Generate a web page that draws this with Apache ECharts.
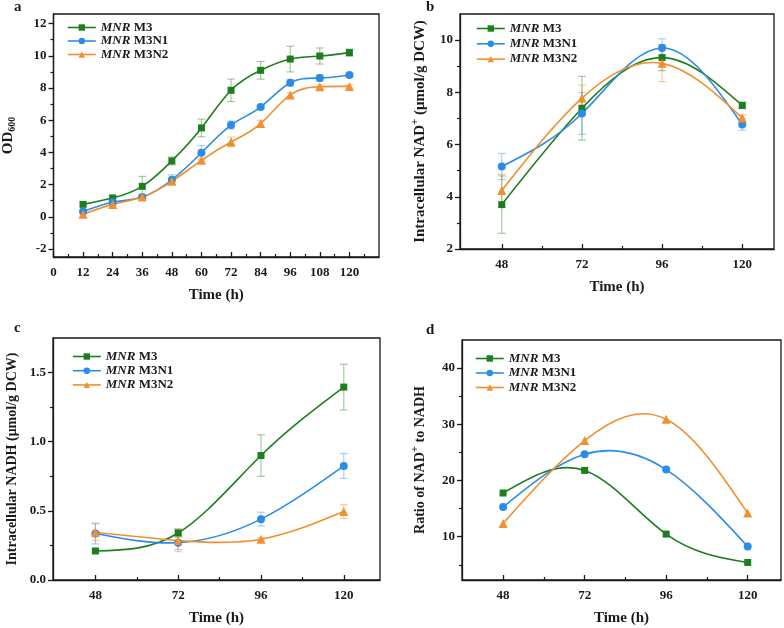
<!DOCTYPE html>
<html>
<head>
<meta charset="utf-8">
<script src="https://cdn.jsdelivr.net/npm/echarts@6/dist/echarts.min.js"></script>
<style>html,body{margin:0;padding:0;background:#fff}#c{width:784px;height:628px}</style>
</head>
<body>
<div id="c"></div>
<script>
// ---------- DATA ----------
const seriesNames = ['MNR M3', 'MNR M3N1', 'MNR M3N2'];

// Panel a: OD600 growth
const timeA = [12, 24, 36, 48, 60, 72, 84, 96, 108, 120];
const odM3     = [0.77, 1.17, 1.89, 3.47, 5.52, 7.86, 9.10, 9.80, 9.99, 10.20];
const odM3err  = [0.10, 0.15, 0.62, 0.25, 0.55, 0.70, 0.55, 0.80, 0.50, 0.22];
const odM3N1    = [0.32, 0.90, 1.23, 2.30, 3.98, 5.70, 6.82, 8.33, 8.62, 8.81];
const odM3N1err = [0.10, 0.10, 0.10, 0.30, 0.45, 0.25, 0.12, 0.20, 0.20, 0.12];
const odM3N2    = [0.15, 0.77, 1.23, 2.20, 3.51, 4.65, 5.79, 7.57, 8.08, 8.10];
const odM3N2err = [0.10, 0.10, 0.10, 0.12, 0.12, 0.30, 0.20, 0.12, 0.12, 0.10];
const xTicksA = [0, 12, 24, 36, 48, 60, 72, 84, 96, 108, 120];
const xMinorA = [6, 18, 30, 42, 54, 66, 78, 90, 102, 114, 126];
const yTicksA = [-2, 0, 2, 4, 6, 8, 10, 12];
const yMinorA = [-1, 1, 3, 5, 7, 9, 11];

// Panels b-d: sampling times
const timeB = [48, 72, 96, 120];
const xTicksB = [48, 72, 96, 120];
const xMinorB = [60, 84, 108];

// Panel b: intracellular NAD+
const nadM3     = [3.70, 7.39, 9.33, 7.50];
const nadM3err  = [1.10, 1.22, 0.50, 0.12];
const nadM3N1    = [5.16, 7.19, 9.70, 6.77];
const nadM3N1err = [0.50, 0.80, 0.35, 0.22];
const nadM3N2    = [4.24, 7.78, 9.11, 7.02];
const nadM3N2err = [0.62, 0.50, 0.70, 0.12];
const yTicksB = [2, 4, 6, 8, 10];
const yMinorB = [3, 5, 7, 9];

// Panel c: intracellular NADH
const nadhM3     = [0.21, 0.34, 0.90, 1.395];
const nadhM3err  = [0.01, 0.03, 0.15, 0.165];
const nadhM3N1    = [0.336, 0.27, 0.44, 0.825];
const nadhM3N1err = [0.075, 0.05, 0.05, 0.09];
const nadhM3N2    = [0.345, 0.285, 0.295, 0.495];
const nadhM3N2err = [0.06, 0.08, 0.012, 0.05];
const yTicksC = [0, 0.5, 1.0, 1.5];
const yMinorC = [0.25, 0.75, 1.25];

// Panel d: NAD+/NADH ratio
const ratioM3   = [17.78, 21.8, 10.47, 5.42];
const ratioM3N1 = [15.28, 24.67, 21.94, 8.27];
const ratioM3N2 = [12.37, 27.1, 30.9, 14.2];
const yTicksD = [10, 20, 30, 40];
const yMinorD = [5, 15, 25, 35];

// ---------- STYLE ----------
const colors = ['#1e7d1e', '#2b8ce6', '#f0902e'];
const errColors = ['rgba(30,125,30,0.40)', 'rgba(43,140,230,0.40)', 'rgba(240,144,46,0.45)'];
const symbols = ['rect', 'circle', 'triangle'];
const symbolSizes = [7, 8, 9];
const FONT = '"Liberation Serif", "Times New Roman", serif';
const AX = '#1a1a1a';

const grids = [
  {left: 53, top: 14, width: 326, height: 243},
  {left: 460, top: 14, width: 314, height: 235},
  {left: 53, top: 338, width: 327, height: 242},
  {left: 462, top: 340, width: 319, height: 240}
];

const xAxes = [], yAxes = [], series = [];

function addAxes(gi, xr, xt, xm, yr, yt, ym, yName, yGap, yFs, yFmt) {
  const base = {gridIndex: gi, type: 'value', splitLine: {show: false}};
  xAxes.push(Object.assign({}, base, {
    position: 'bottom', min: xr[0], max: xr[1],
    axisLine: {show: true, onZero: false, lineStyle: {color: AX, width: 1.3}},
    axisTick: {show: true, inside: true, length: 5, customValues: xt, lineStyle: {color: AX, width: 1.3}},
    axisLabel: {customValues: xt, fontFamily: FONT, fontWeight: 'bold', fontSize: 13, color: AX, margin: 9},
    name: 'Time (h)', nameLocation: 'middle', nameGap: 31,
    nameTextStyle: {fontFamily: FONT, fontWeight: 'bold', fontSize: 15, color: AX}
  }));
  xAxes.push(Object.assign({}, base, {
    position: 'bottom', min: xr[0], max: xr[1],
    axisLine: {show: false, onZero: false},
    axisTick: {show: true, inside: true, length: 3, customValues: xm, lineStyle: {color: AX, width: 1.2}},
    axisLabel: {show: false}
  }));
  yAxes.push(Object.assign({}, base, {
    position: 'left', min: yr[0], max: yr[1],
    axisLine: {show: true, onZero: false, lineStyle: {color: AX, width: 1.3}},
    axisTick: {show: true, inside: false, length: 5, customValues: yt, lineStyle: {color: AX, width: 1.3}},
    axisLabel: {customValues: yt, fontFamily: FONT, fontWeight: 'bold', fontSize: 13, color: AX, margin: 7,
      formatter: yFmt || (v => String(v))},
    name: yName, nameLocation: 'middle', nameGap: yGap,
    nameTextStyle: {fontFamily: FONT, fontWeight: 'bold', fontSize: yFs, color: AX,
      rich: {
        sub: {fontFamily: FONT, fontWeight: 'bold', fontSize: 10, color: AX, padding: [8, 0, 0, 0]},
        sup: {fontFamily: FONT, fontWeight: 'bold', fontSize: 11, color: AX, padding: [0, 0, 9, 0]}
      }}
  }));
  yAxes.push(Object.assign({}, base, {
    position: 'left', min: yr[0], max: yr[1],
    axisLine: {show: false, onZero: false},
    axisTick: {show: true, inside: false, length: 3, customValues: ym, lineStyle: {color: AX, width: 1.2}},
    axisLabel: {show: false}
  }));
}

function pairs(xs, ys) { return xs.map((x, i) => [x, ys[i]]); }

// Natural cubic spline through pixel points -> SVG path (bezier segments)
function splinePath(P) {
  const n = P.length;
  if (n < 2) return '';
  const M = new Array(n).fill(0);
  if (n > 2) {
    const a = [], b = [], c = [], d = [];
    for (let i = 1; i < n - 1; i++) {
      const h0 = P[i][0] - P[i - 1][0], h1 = P[i + 1][0] - P[i][0];
      a.push(h0 / 6); b.push((h0 + h1) / 3); c.push(h1 / 6);
      d.push((P[i + 1][1] - P[i][1]) / h1 - (P[i][1] - P[i - 1][1]) / h0);
    }
    const m = b.length;
    for (let i = 1; i < m; i++) {
      const w = a[i] / b[i - 1];
      b[i] -= w * c[i - 1]; d[i] -= w * d[i - 1];
    }
    const sol = new Array(m);
    sol[m - 1] = d[m - 1] / b[m - 1];
    for (let i = m - 2; i >= 0; i--) sol[i] = (d[i] - c[i] * sol[i + 1]) / b[i];
    for (let i = 0; i < m; i++) M[i + 1] = sol[i];
  }
  let s = 'M' + P[0][0] + ' ' + P[0][1];
  for (let i = 0; i < n - 1; i++) {
    const h = P[i + 1][0] - P[i][0];
    const sl = (P[i + 1][1] - P[i][1]) / h;
    const d0 = sl - h * (2 * M[i] + M[i + 1]) / 6;
    const d1 = sl + h * (M[i] + 2 * M[i + 1]) / 6;
    s += ' C' + (P[i][0] + h / 3) + ' ' + (P[i][1] + d0 * h / 3) + ' ' +
         (P[i + 1][0] - h / 3) + ' ' + (P[i + 1][1] - d1 * h / 3) + ' ' +
         P[i + 1][0] + ' ' + P[i + 1][1];
  }
  return s;
}

function addLine(gi, k, xs, ys) {
  series.push({
    type: 'custom', name: 'curve' + gi + k, xAxisIndex: gi * 2, yAxisIndex: gi * 2,
    data: pairs(xs, ys), z: 3, silent: true,
    renderItem: function (params, api) {
      if (params.dataIndexInside !== 0) return null;
      const P = [];
      for (let i = 0; i < xs.length; i++) P.push(api.coord([api.value(0, i), api.value(1, i)]));
      return {type: 'path', shape: {pathData: splinePath(P)},
        style: {stroke: colors[k], lineWidth: 1.6, fill: null}};
    }
  });
  series.push({
    type: 'line', name: seriesNames[k], xAxisIndex: gi * 2, yAxisIndex: gi * 2,
    data: pairs(xs, ys),
    symbol: symbols[k], symbolSize: symbolSizes[k], showSymbol: true,
    lineStyle: {color: colors[k], width: 1.6, opacity: 0},
    itemStyle: {color: colors[k]},
    z: 4
  });
}

function addErr(gi, k, xs, ys, es) {
  series.push({
    type: 'custom', name: 'err' + gi + k, xAxisIndex: gi * 2, yAxisIndex: gi * 2,
    data: xs.map((x, i) => [x, ys[i] - es[i], ys[i] + es[i]]),
    z: 2, silent: true,
    renderItem: function (params, api) {
      const x = api.value(0);
      const lo = api.coord([x, api.value(1)]);
      const hi = api.coord([x, api.value(2)]);
      const w = 4;
      const st = {stroke: errColors[k], lineWidth: 1.2};
      return {type: 'group', children: [
        {type: 'line', shape: {x1: lo[0], y1: lo[1], x2: hi[0], y2: hi[1]}, style: st},
        {type: 'line', shape: {x1: lo[0] - w, y1: lo[1], x2: lo[0] + w, y2: lo[1]}, style: st},
        {type: 'line', shape: {x1: hi[0] - w, y1: hi[1], x2: hi[0] + w, y2: hi[1]}, style: st}
      ]};
    }
  });
}

addAxes(0, [0, 132], xTicksA, xMinorA, [-2.5, 12.6], yTicksA, yMinorA, 'OD{sub|600}', 36, 15);
addAxes(1, [35.5, 129.5], xTicksB, xMinorB, [2, 11], yTicksB, yMinorB, 'Intracellular NAD{sup|+} (μmol/g DCW)', 30, 15);
addAxes(2, [35.7, 130.5], xTicksB, xMinorB, [0, 1.75], yTicksC, yMinorC, 'Intracellular NADH (μmol/g DCW)', 34, 14, v => v.toFixed(1));
addAxes(3, [35.9, 129.8], xTicksB, xMinorB, [2.3, 45], yTicksD, yMinorD, 'Ratio of NAD{sup|+} to NADH', 32, 14);

const panelA = [[odM3, odM3err], [odM3N1, odM3N1err], [odM3N2, odM3N2err]];
const panelB = [[nadM3, nadM3err], [nadM3N1, nadM3N1err], [nadM3N2, nadM3N2err]];
const panelC = [[nadhM3, nadhM3err], [nadhM3N1, nadhM3N1err], [nadhM3N2, nadhM3N2err]];
const panelD = [ratioM3, ratioM3N1, ratioM3N2];

panelA.forEach((p, k) => { addErr(0, k, timeA, p[0], p[1]); addLine(0, k, timeA, p[0]); });
panelB.forEach((p, k) => { addErr(1, k, timeB, p[0], p[1]); addLine(1, k, timeB, p[0]); });
panelC.forEach((p, k) => { addErr(2, k, timeB, p[0], p[1]); addLine(2, k, timeB, p[0]); });
panelD.forEach((p, k) => { addLine(3, k, timeB, p); });

function legend(left, top, gap) {
  return {
    orient: 'vertical', left: left, top: top, data: seriesNames,
    itemWidth: 28, itemHeight: 8, itemGap: gap, selectedMode: false,
    lineStyle: {opacity: 1, width: 1.6},
    formatter: n => '{i|MNR}{t|' + n.slice(3) + '}',
    textStyle: {
      fontFamily: FONT, fontWeight: 'bold', fontSize: 13, color: AX, lineHeight: 13,
      rich: {
        i: {fontFamily: FONT, fontWeight: 'bold', fontStyle: 'italic', fontSize: 13, color: AX},
        t: {fontFamily: FONT, fontWeight: 'bold', fontSize: 13, color: AX}
      }
    }
  };
}

const grid = grids.map(g => Object.assign({show: true, borderColor: AX, borderWidth: 1.3, backgroundColor: 'transparent'}, g));

const panelLetter = (t, x, y) => ({type: 'text', left: x, top: y,
  style: {text: t, font: 'bold 15px ' + FONT, fill: AX}});

const chart = echarts.init(document.getElementById('c'), null, {renderer: 'canvas'});
chart.setOption({
  backgroundColor: '#fff',
  animation: false,
  grid: grid,
  xAxis: xAxes,
  yAxis: yAxes,
  legend: [legend(62, 16, 0.5), legend(471, 17, 2.3), legend(67, 345, 1.2), legend(470, 347, 1.5)],
  series: series,
  graphic: [panelLetter('a', 14, 0), panelLetter('b', 426, 0), panelLetter('c', 14, 321), panelLetter('d', 426, 323)]
});
</script>
</body>
</html>
